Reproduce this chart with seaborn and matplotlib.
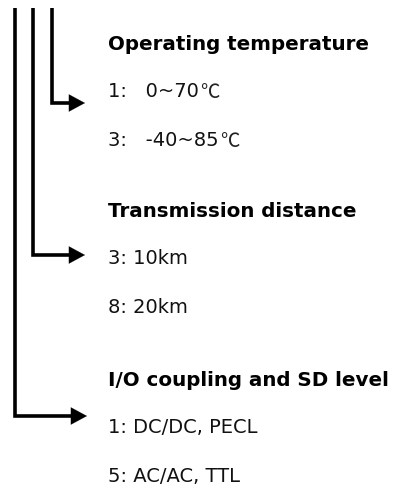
import matplotlib
matplotlib.use("Agg")
import matplotlib.pyplot as plt
import seaborn as sns

# Ordering-code legend: one group per connector line
headings = ["Operating temperature", "Transmission distance", "I/O coupling and SD level"]
options = [
    ["1:   0~70℃", "3:   -40~85℃"],
    ["3: 10km", "8: 20km"],
    ["1: DC/DC, PECL", "5: AC/AC, TTL"],
]

sns.set_style("white")
plt.rcParams['font.family'] = ['DejaVu Sans', 'Noto Sans CJK SC']

fig = plt.figure(figsize=(4.18, 4.88), dpi=100)
ax = fig.add_axes([0, 0, 1, 1])
ax.set_xlim(0, 418)
ax.set_ylim(488, 0)
ax.axis("off")

# layout (pixel units)
line_x = [52, 33, 15]
arrow_y = [103, 255, 416]
arrow_tip = [85, 85, 87]
head_base = [50, 217, 386]
row_off = [47, 96]
text_x = 108
top = 8

renderer = fig.canvas.get_renderer()

for g, (head, opts) in enumerate(zip(headings, options)):
    ax.text(text_x, head_base[g], head, fontsize=14.3, fontweight="bold",
            va="baseline", ha="left", color="black")
    for i, opt in enumerate(opts):
        main, _, unit = opt.partition("℃")
        t = ax.text(text_x, head_base[g] + row_off[i], main, fontsize=14,
                    va="baseline", ha="left", color="#111111")
        if opt.endswith("℃"):
            bb = t.get_window_extent(renderer)
            x_end = ax.transData.inverted().transform((bb.x1, bb.y0))[0]
            ax.text(x_end + 1, head_base[g] + row_off[i] + 1, "℃", fontsize=14,
                    va="baseline", ha="left", color="#222222",
                    family=['Noto Sans CJK SC'], fontweight="light")
    # connector: down, then right into an arrowhead
    y = arrow_y[g]
    ax.plot([line_x[g], line_x[g], arrow_tip[g] - 14], [top, y, y],
            color="black", lw=2.6, solid_joinstyle="miter", solid_capstyle="butt")
    ax.annotate("", xy=(arrow_tip[g], y), xytext=(arrow_tip[g] - 16, y),
                arrowprops=dict(arrowstyle="-|>,head_length=1.15,head_width=0.62",
                                color="black", lw=0.1, shrinkA=0, shrinkB=0))

fig.savefig("out.png", dpi=100, facecolor="white")
